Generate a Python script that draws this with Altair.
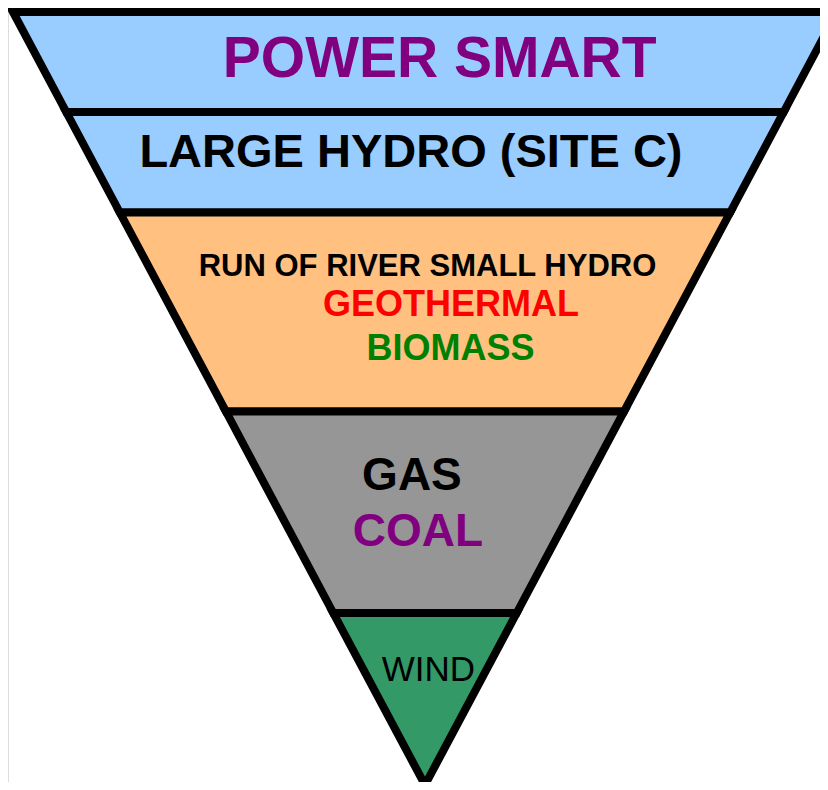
import altair as alt
import pandas as pd

# Tiers of the inverted pyramid (depth measured 0 at the top edge, 100 at the apex)
tiers = ["Power Smart", "Large Hydro", "Small Renewables", "Fossil", "Wind"]
tier_top = [0.0, 12.94, 25.94, 51.68, 77.75]
tier_bottom = [12.94, 25.94, 51.68, 77.75, 100.0]
tier_colors = ["#99CCFF", "#99CCFF", "#FFC080", "#969696", "#339966"]

# Labels inside the tiers
label_text = ["POWER SMART", "LARGE HYDRO (SITE C)", "RUN OF RIVER SMALL HYDRO",
              "GEOTHERMAL", "BIOMASS", "GAS", "COAL"]
label_x = [3.57, -3.40, 0.61, 6.31, 6.19, -3.16, -1.70]
label_depth = [8.41, 20.05, 34.15, 39.33, 45.02, 61.84, 69.08]
label_size = [57, 47, 31, 36, 36, 46, 46]
label_color = ["#800080", "#000000", "#000000", "#FF0000", "#008000", "#000000", "#800080"]

wind_text = ["WIND"]
wind_x = [0.85]
wind_depth = [86.55]
wind_size = [35]

rows = []
for t, top, bot in zip(tiers, tier_top, tier_bottom):
    for d in (top, bot):
        rows.append({"tier": t, "depth": d, "left": -(100 - d), "right": 100 - d})
shape_df = pd.DataFrame(rows)

labels_df = pd.DataFrame({"text": label_text, "x": label_x, "depth": label_depth,
                          "size": label_size, "color": label_color})
wind_df = pd.DataFrame({"text": wind_text, "x": wind_x, "depth": wind_depth, "size": wind_size})

xscale = alt.Scale(domain=[-101.21, 95.88], nice=False, zero=False)
yscale = alt.Scale(domain=[-0.517, 99.61], nice=False, zero=False, reverse=True)

areas = alt.Chart(shape_df).mark_area(
    orient="horizontal", stroke="black", strokeWidth=8, strokeJoin="miter", strokeMiterLimit=10
).encode(
    y=alt.Y("depth:Q", scale=yscale, axis=None),
    x=alt.X("left:Q", scale=xscale, axis=None),
    x2="right:Q",
    fill=alt.Fill("tier:N", scale=alt.Scale(domain=tiers, range=tier_colors), legend=None),
    detail="tier:N",
)

bold_text = alt.Chart(labels_df).mark_text(
    font="Liberation Sans", fontWeight="bold", align="center", baseline="alphabetic"
).encode(
    x=alt.X("x:Q", scale=xscale, axis=None),
    y=alt.Y("depth:Q", scale=yscale, axis=None),
    text="text:N",
    size=alt.Size("size:Q", scale=None),
    color=alt.Color("color:N", scale=None),
)

wind_label = alt.Chart(wind_df).mark_text(
    font="Liberation Sans", fontWeight="normal", align="center", baseline="alphabetic", color="black"
).encode(
    x=alt.X("x:Q", scale=xscale, axis=None),
    y=alt.Y("depth:Q", scale=yscale, axis=None),
    text="text:N",
    size=alt.Size("size:Q", scale=None),
)

chart = alt.layer(areas, bold_text, wind_label).properties(
    width=812, height=774,
    autosize=alt.AutoSizeParams(type="none"),
    padding={"left": 0, "top": 0, "right": 0, "bottom": 0},
).configure_view(stroke="transparent").configure(background="white")

chart.save("out.html", embed_options={"renderer": "svg", "actions": False})
